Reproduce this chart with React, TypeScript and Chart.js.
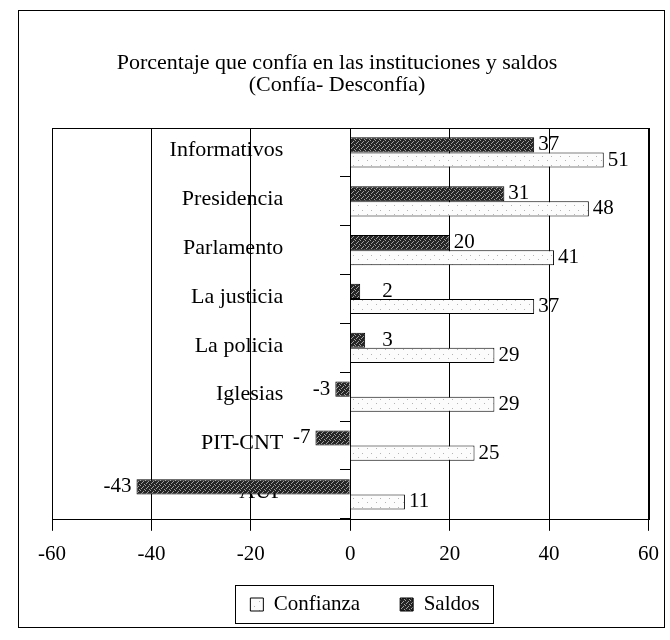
import React, { useEffect, useRef } from 'react';
import { Chart, registerables } from 'chart.js';

Chart.register(...registerables);

const categories = ['Informativos', 'Presidencia', 'Parlamento', 'La justicia', 'La policia', 'Iglesias', 'PIT-CNT', 'AUF'];
const saldos = [37, 31, 20, 2, 3, -3, -7, -43];
const confianza = [51, 48, 41, 37, 29, 29, 25, 11];
const xMin = -60;
const xMax = 60;
const xStep = 20;
const titleLines = ['Porcentaje que confía en las instituciones y saldos', '(Confía- Desconfía)'];
const seriesNames = ['Saldos', 'Confianza'];

const FONT = '"Liberation Serif", "DejaVu Serif", serif';

function makePattern(base: string, dot: string, size: number, dots: number[][]) {
  const c = document.createElement('canvas');
  c.width = size;
  c.height = size;
  const g = c.getContext('2d')!;
  g.fillStyle = base;
  g.fillRect(0, 0, size, size);
  g.fillStyle = dot;
  dots.forEach(([x, y]) => g.fillRect(x, y, 1, 1));
  return g.createPattern(c, 'repeat')!;
}

// category labels drawn inside the plot, left of the zero axis, under the bars
const categoryLabels = {
  id: 'categoryLabels',
  beforeDatasetsDraw(chart: any) {
    const ctx = chart.ctx;
    const ys = chart.scales.y;
    const zero = chart.scales.x.getPixelForValue(0);
    ctx.save();
    ctx.font = `22px ${FONT}`;
    ctx.fillStyle = '#000';
    ctx.textAlign = 'right';
    ctx.textBaseline = 'middle';
    ys.getLabels().forEach((lab: string, i: number) => {
      ctx.fillText(lab, zero - 67, ys.getPixelForValue(i) - 2);
    });
    ctx.restore();
  },
};

const valueLabels = {
  id: 'valueLabels',
  afterDatasetsDraw(chart: any) {
    const ctx = chart.ctx;
    const zero = chart.scales.x.getPixelForValue(0);
    ctx.save();
    ctx.font = `21px ${FONT}`;
    ctx.fillStyle = '#000';
    ctx.textBaseline = 'middle';
    chart.data.datasets.forEach((ds: any, di: number) => {
      const meta = chart.getDatasetMeta(di);
      meta.data.forEach((bar: any, i: number) => {
        const v = ds.data[i];
        if (v >= 0) {
          ctx.textAlign = 'left';
          ctx.fillText(String(v), Math.max(bar.x + 4, zero + 32), bar.y);
        } else {
          ctx.textAlign = 'right';
          ctx.fillText(String(v), bar.x - 5, bar.y);
        }
      });
    });
    ctx.restore();
  },
};

const nudge = {
  id: 'nudge',
  afterLayout(chart: any) {
    const t = chart.titleBlock;
    if (t) {
      t.left -= 15;
      t.right -= 15;
    }
    const l = chart.legend;
    if (l) {
      l.left += 13;
      l.right += 13;
      l.top -= 24;
      l.bottom -= 24;
    }
  },
};

const frames = {
  id: 'frames',
  afterDraw(chart: any) {
    const ctx = chart.ctx;
    const a = chart.chartArea;
    ctx.save();
    ctx.strokeStyle = '#000';
    ctx.lineWidth = 1;
    ctx.strokeRect(Math.round(a.left) + 0.5, Math.round(a.top) + 0.5, Math.round(a.right - a.left), Math.round(a.bottom - a.top));
    ctx.strokeRect(18.5, 10.5, 646, 617);
    const boxes = chart.legend && chart.legend.legendHitBoxes;
    if (boxes && boxes.length) {
      let l = Infinity, r = -Infinity, t = Infinity, b = -Infinity;
      boxes.forEach((h: any) => {
        l = Math.min(l, h.left);
        r = Math.max(r, h.left + h.width);
        t = Math.min(t, h.top);
        b = Math.max(b, h.top + h.height);
      });
      ctx.strokeRect(Math.round(l - 15) + 0.5, Math.round(t - 9) + 0.5, Math.round(r - l + 29), Math.round(b - t + 17));
    }
    ctx.restore();
  },
};

export default function App() {
  const ref = useRef<HTMLCanvasElement>(null);

  useEffect(() => {
    const canvas = ref.current!;
    const dark = makePattern('#262626', '#a0a0a0', 5, [[0, 0], [3, 1], [1, 3], [4, 4], [2, 2]]);
    const light = makePattern('#fcfcfc', '#b4b4b4', 9, [[2, 3], [7, 7]]);

    const chart = new Chart(canvas, {
      type: 'bar',
      data: {
        labels: categories,
        datasets: [
          {
            label: seriesNames[0],
            data: saldos,
            backgroundColor: dark as any,
            borderColor: '#000',
            borderWidth: 1,
            categoryPercentage: 0.62,
            barPercentage: 1,
          },
          {
            label: seriesNames[1],
            data: confianza,
            backgroundColor: light as any,
            borderColor: '#000',
            borderWidth: 1,
            categoryPercentage: 0.62,
            barPercentage: 1,
          },
        ],
      },
      options: {
        indexAxis: 'y',
        responsive: false,
        animation: false,
        layout: { padding: { left: 52, right: 18, top: 0, bottom: -9 } },
        scales: {
          x: {
            type: 'linear',
            min: xMin,
            max: xMax,
            ticks: { stepSize: xStep, color: '#000', font: { family: FONT, size: 21 }, padding: 11 },
            grid: { color: '#000', lineWidth: 1, tickLength: 12, drawTicks: true },
            border: { display: false },
          },
          y: {
            type: 'category',
            position: { x: 0 } as any,
            ticks: { display: false },
            grid: { drawOnChartArea: false, drawTicks: true, tickLength: 10, color: '#000', offset: true },
            border: { display: true, color: '#000', width: 1 },
          },
        },
        plugins: {
          title: {
            display: true,
            text: titleLines,
            color: '#000',
            font: { family: FONT, size: 22, weight: 'normal', lineHeight: 1.0 },
            padding: { top: 52, bottom: 32 },
          },
          legend: {
            display: true,
            position: 'bottom',
            labels: {
              color: '#000',
              font: { family: FONT, size: 21 },
              boxWidth: 13,
              boxHeight: 13,
              padding: 40,
              sort: (a: any, b: any) => b.datasetIndex - a.datasetIndex,
            },
          },
          tooltip: { enabled: false },
        },
      },
      plugins: [categoryLabels, valueLabels, nudge, frames],
    });

    return () => chart.destroy();
  }, []);

  return (
    <div style={{ position: 'fixed', left: 0, top: 0, width: 670, height: 640, background: '#fff' }}>
      <canvas ref={ref} width={670} height={640} style={{ display: 'block' }} />
    </div>
  );
}
